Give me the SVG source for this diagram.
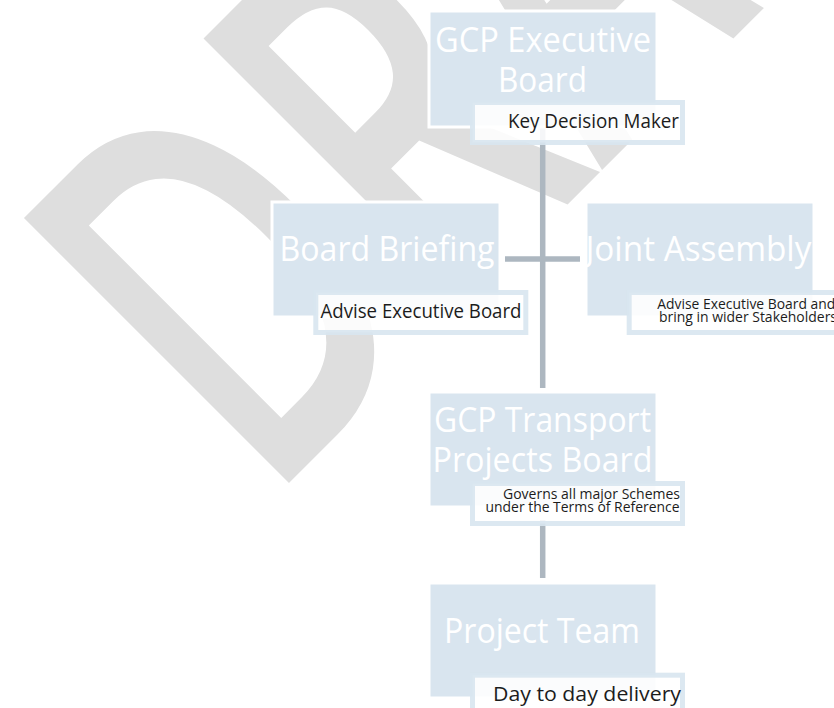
<svg xmlns="http://www.w3.org/2000/svg" width="834" height="708" viewBox="0 0 834 708">
  <style>
    .box { fill: #d9e5ef; stroke: #ffffff; stroke-width: 3; }
    .lbl { fill: #ffffff; fill-opacity: 0.88; stroke: #d8e5ef; stroke-opacity: 0.9; stroke-width: 5; }
    .title { font-family: "Open Sans", "Noto Sans", sans-serif; font-size: 35px; fill: #ffffff; text-anchor: middle; }
    .t1 { font-family: "Open Sans", "Noto Sans", sans-serif; font-size: 19.5px; fill: #1c1c1c; text-anchor: end; }
    .t2 { font-family: "Open Sans", "Noto Sans", sans-serif; font-size: 14px; fill: #1c1c1c; text-anchor: end; }
    .t2s { font-family: "Open Sans", "Noto Sans", sans-serif; font-size: 14px; fill: #1c1c1c; text-anchor: start; }
    .conn { stroke: #adb7c0; stroke-width: 5.5; fill: none; }
    .wm { font-family: "Open Sans", "Noto Sans", sans-serif; font-size: 525px; font-weight: 600; fill: #dedede; }
  </style>
  <rect width="834" height="708" fill="#ffffff"/>
  <g id="watermark">
    <text class="wm" transform="translate(266 506) rotate(-45) scale(0.66 1)">DRAFT</text>
  </g>
  <g id="connectors">
    <line class="conn" x1="542.7" y1="127" x2="542.7" y2="388"/>
    <line class="conn" x1="505" y1="259" x2="580" y2="259"/>
    <line class="conn" x1="542.7" y1="520" x2="542.7" y2="578"/>
  </g>
  <g id="node-exec">
    <rect class="box" x="429" y="11" width="228" height="116"/>
    <text class="title" x="543" y="51.7" textLength="216" lengthAdjust="spacingAndGlyphs">GCP Executive</text>
    <text class="title" x="542.5" y="91.7" textLength="89" lengthAdjust="spacingAndGlyphs">Board</text>
    <rect class="lbl" x="472.5" y="102.5" width="210" height="40"/>
    <text class="t1" x="679" y="127.7" textLength="171" lengthAdjust="spacingAndGlyphs">Key Decision Maker</text>
  </g>
  <g id="node-briefing">
    <rect class="box" x="272" y="202" width="228" height="115"/>
    <text class="title" x="387" y="260.7" textLength="215" lengthAdjust="spacingAndGlyphs">Board Briefing</text>
    <rect class="lbl" x="315.8" y="292.5" width="210" height="40"/>
    <text class="t1" x="521.5" y="318.3" textLength="201" lengthAdjust="spacingAndGlyphs">Advise Executive Board</text>
  </g>
  <g id="node-assembly">
    <rect class="box" x="586" y="202" width="228" height="115"/>
    <text class="title" x="698.4" y="260.7" textLength="226" lengthAdjust="spacingAndGlyphs">Joint Assembly</text>
    <rect class="lbl" x="629.2" y="292.5" width="210" height="40"/>
    <text class="t2s" x="657.3" y="309" textLength="178" lengthAdjust="spacingAndGlyphs">Advise Executive Board and</text>
    <text class="t2s" x="659" y="321.7" textLength="178" lengthAdjust="spacingAndGlyphs">bring in wider Stakeholders</text>
  </g>
  <g id="node-transport">
    <rect class="box" x="429" y="392" width="228" height="115"/>
    <text class="title" x="542.5" y="431.7" textLength="217" lengthAdjust="spacingAndGlyphs">GCP Transport</text>
    <text class="title" x="542.5" y="471.7" textLength="220" lengthAdjust="spacingAndGlyphs">Projects Board</text>
    <rect class="lbl" x="472.5" y="483.5" width="210" height="40"/>
    <text class="t2" x="680" y="499" textLength="177" lengthAdjust="spacingAndGlyphs">Governs all major Schemes</text>
    <text class="t2" x="679.5" y="511.7" textLength="194" lengthAdjust="spacingAndGlyphs">under the Terms of Reference</text>
  </g>
  <g id="node-team">
    <rect class="box" x="429" y="583" width="228" height="115"/>
    <text class="title" x="542" y="643.3" textLength="196" lengthAdjust="spacingAndGlyphs">Project Team</text>
    <rect class="lbl" x="472.5" y="675.2" width="210" height="40"/>
    <text class="t1" x="681" y="700.7" textLength="188" lengthAdjust="spacingAndGlyphs">Day to day delivery</text>
  </g>
</svg>
